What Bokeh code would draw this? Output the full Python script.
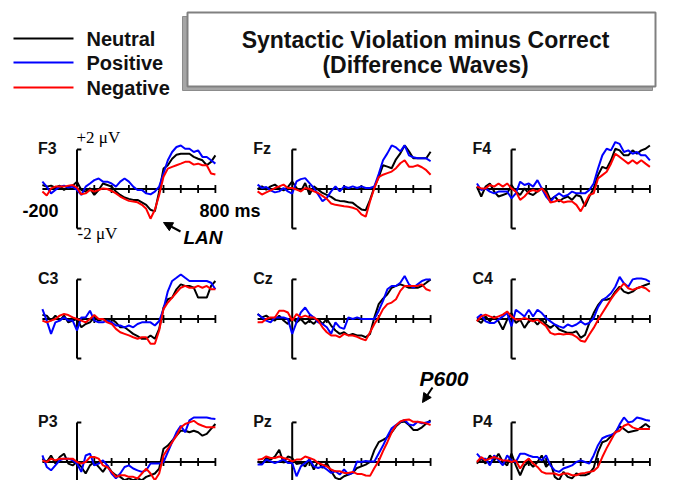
from bokeh.plotting import figure
from bokeh.models import Range1d, Arrow, NormalHead
from bokeh.embed import file_html
from bokeh.resources import INLINE
from bokeh.core.properties import value

# ---------------- data (difference waves, microvolts) ----------------
times = list(range(-200, 801, 25))
tick_ms = [100, 200, 300, 400, 500, 600, 700, 800]
conditions = ["Neutral", "Positive", "Negative"]
electrodes = ["F3", "Fz", "F4", "C3", "Cz", "C4", "P3", "Pz", "P4"]

F3_neutral = [0.2, 0.12, 0.17, 0.07, 0.17, -0.05, 0.12, 0.17, 0.37, -0.05, -0.13, 0.03, -0.3, -0.05, 0.28, 0.2,
              0.12, -0.13, -0.3, -0.43, -0.5, -0.55, -0.55, -0.67, -0.8, -1.05, -1.13, -0.13, 1.03, 1.2, 1.53, 1.73,
              1.78, 1.78, 1.78, 1.62, 1.53, 1.45, 1.2, 1.37, 1.7]
F3_positive = [0.37, 0.12, -0.22, -0.05, 0.12, 0.17, 0.07, 0.12, -0.05, -0.3, 0.12, 0.28, 0.45, 0.53, 0.37, 0.37,
               0.28, 0.12, 0.37, 0.53, 0.37, 0.12, -0.05, -0.05, -0.22, -0.27, -0.13, 0.12, 0.78, 1.45, 1.87, 2.12,
               2.2, 2.03, 2.03, 1.87, 1.95, 1.62, 1.62, 1.45, 1.28]
F3_negative = [-0.13, -0.33, 0.03, 0.12, 0.12, 0.12, 0.17, 0.2, 0.07, -0.27, -0.22, -0.05, -0.13, -0.05, 0.03, 0.0,
               -0.1, -0.22, -0.38, -0.5, -0.6, -0.63, -0.67, -0.8, -1.0, -1.5, -1.05, -0.3, 0.62, 1.03, 1.12, 1.2,
               1.28, 1.37, 1.37, 1.23, 1.28, 1.2, 1.2, 0.78, 0.73]

Fz_neutral = [0.0, 0.13, -0.03, 0.13, 0.22, 0.05, -0.07, 0.1, 0.38, 0.05, -0.12, 0.3, -0.28, 0.13, -0.03, -0.2,
              -0.3, -0.4, -0.55, -0.6, -0.62, -0.67, -0.7, -0.87, -1.03, -1.07, -0.55, 0.1, 0.6, 1.2, 1.13, 1.05,
              1.5, 1.8, 2.2, 1.9, 1.55, 1.55, 1.55, 1.55, 1.88]
Fz_positive = [0.22, 0.05, 0.1, -0.07, -0.17, -0.12, 0.05, -0.12, -0.23, 0.38, 0.5, 0.55, 0.3, 0.05, -0.28, -0.62,
               -0.45, -0.12, 0.13, -0.12, 0.13, 0.05, 0.13, 0.05, 0.13, 0.05, 0.05, 0.13, 0.75, 1.45, 1.8, 2.2,
               2.1, 1.9, 2.2, 1.7, 1.6, 1.55, 1.55, 1.55, 1.4]
Fz_negative = [-0.12, -0.28, -0.17, -0.07, 0.05, 0.13, 0.22, 0.05, 0.05, -0.03, -0.12, 0.05, 0.0, -0.12, -0.2, -0.35,
               -0.5, -0.73, -0.8, -0.83, -0.87, -0.9, -0.95, -1.03, -1.28, -1.4, -0.62, 0.05, 0.6, 0.72, 0.8, 0.88,
               1.05, 1.3, 1.45, 1.13, 1.13, 1.2, 1.1, 0.95, 0.72]

F4_neutral = [0.12, -0.38, 0.12, 0.28, -0.13, -0.38, -0.3, -0.22, 0.2, -0.13, -0.3, 0.03, -0.22, -0.3, -0.13, 0.03,
              -0.05, -0.55, -0.38, -0.63, -0.47, -0.38, -0.55, -0.3, -0.38, -0.88, -0.38, 0.03, 0.7, 1.12, 1.03, 1.45,
              2.03, 1.95, 1.7, 1.7, 1.95, 1.78, 1.95, 2.03, 2.2]
F4_positive = [0.28, -0.05, 0.03, -0.13, -0.22, -0.13, -0.13, -0.13, -0.47, -0.22, 0.37, 0.2, 0.28, 0.12, 0.45, 0.03,
               -0.38, -0.63, -0.38, -0.22, -0.38, -0.3, -0.13, -0.22, -0.22, -0.22, -0.05, 0.28, 1.03, 1.7, 2.03, 1.95,
               2.37, 2.28, 1.87, 1.95, 1.78, 1.87, 1.7, 1.7, 1.45]
F4_negative = [0.12, 0.03, 0.03, 0.2, 0.12, 0.28, 0.12, 0.28, 0.03, -0.13, -0.55, -0.38, -0.13, -0.05, -0.13, 0.03,
               -0.22, -0.68, -0.63, -0.55, -0.68, -0.63, -0.63, -0.8, -1.13, -0.72, -0.3, -0.22, 0.53, 0.7, 0.87, 1.28,
               1.78, 1.62, 1.45, 1.28, 1.45, 1.28, 1.45, 1.28, 1.12]

C3_neutral = [0.2, 0.17, -0.08, 0.17, -0.08, 0.17, -0.17, -0.08, 0.0, -0.42, -0.25, -0.17, 0.08, -0.08, 0.0, -0.08,
              0.0, -0.17, -0.42, -0.42, -0.58, -0.75, -0.87, -1.0, -1.0, -0.83, -1.0, -0.5, 0.58, 1.0, 1.08, 1.5,
              1.75, 1.67, 1.67, 1.58, 1.08, 1.08, 1.08, 1.67, 1.92]
C3_positive = [0.5, -0.08, -0.75, -0.17, -0.08, 0.08, -0.08, -0.08, -0.58, 0.08, 0.08, 0.42, -0.08, -0.17, -0.17, -0.08,
               -0.17, -0.33, -0.33, -0.42, -0.33, -0.42, -0.25, -0.17, -0.17, -0.17, -0.33, -0.1, 0.5, 1.4, 1.92, 2.08,
               2.25, 2.08, 1.92, 1.92, 1.92, 1.92, 1.92, 1.83, 1.5]
C3_negative = [-0.08, -0.17, -0.08, 0.0, 0.17, 0.25, 0.2, 0.08, 0.0, -0.08, -0.17, 0.0, 0.2, 0.0, 0.0, -0.17,
               -0.25, -0.5, -0.67, -0.75, -0.83, -0.92, -1.0, -0.92, -0.92, -1.25, -1.25, -0.58, 0.5, 0.83, 1.08, 1.33,
               1.58, 1.67, 1.58, 1.58, 1.67, 1.58, 1.67, 1.5, 1.5]

Cz_neutral = [0.25, 0.08, 0.17, 0.0, -0.08, 0.17, -0.08, -0.25, 0.08, -0.17, 0.0, -0.25, -0.08, -0.25, 0.0, -0.25,
              0.0, -0.33, -0.58, -0.75, -0.67, -0.83, -0.75, -0.83, -0.83, -0.92, -0.75, 0.08, 0.75, 1.03, 1.25, 1.58,
              1.67, 1.75, 1.67, 1.58, 1.58, 1.58, 1.67, 1.83, 2.0]
Cz_positive = [0.25, 0.08, -0.08, -0.17, 0.08, 0.08, 0.08, 0.0, -0.75, -0.17, 0.33, 0.58, 0.25, 0.08, -0.17, -0.25,
               -0.42, -0.75, -0.17, -0.42, -0.5, 0.08, 0.0, 0.08, 0.0, 0.0, 0.0, 0.0, 0.42, 0.92, 1.5, 1.67,
               1.67, 1.83, 2.17, 1.75, 1.58, 1.75, 1.92, 2.0, 2.0]
Cz_negative = [-0.17, -0.17, 0.0, 0.08, 0.08, 0.42, 0.42, 0.33, -0.08, 0.25, 0.08, 0.17, 0.08, 0.08, -0.08, -0.42,
               -0.67, -0.83, -0.83, -0.92, -0.75, -0.83, -0.83, -0.9, -1.0, -1.08, -0.67, -0.25, 0.08, 0.5, 0.75, 0.83,
               1.0, 1.42, 1.67, 1.67, 1.67, 1.67, 1.75, 1.5, 1.42]

C4_neutral = [-0.03, -0.2, 0.13, -0.12, 0.13, -0.12, -0.53, -0.03, 0.3, -0.2, -0.03, -0.45, -0.12, -0.03, -0.28, -0.03,
              -0.28, -0.45, -0.28, -0.53, -0.62, -0.7, -0.7, -0.62, -0.95, -0.8, -0.2, 0.3, 0.7, 0.97, 0.97, 1.05,
              1.38, 1.63, 1.38, 1.3, 1.38, 1.55, 1.63, 1.72, 1.8]
C4_positive = [0.05, 0.22, -0.12, -0.2, -0.2, -0.03, 0.13, 0.3, -0.37, 0.47, 0.3, 0.13, 0.47, 0.13, 0.47, 0.3,
               0.05, -0.12, -0.28, -0.37, -0.45, -0.28, -0.37, -0.28, -0.12, -0.28, -0.2, 0.05, 0.6, 0.95, 1.1, 1.3,
               1.63, 2.13, 1.8, 1.63, 2.0, 2.05, 2.05, 2.0, 1.88]
C4_negative = [-0.12, 0.13, 0.22, 0.13, 0.05, 0.13, 0.22, 0.38, 0.13, -0.03, -0.03, 0.05, -0.03, -0.12, -0.03, -0.2,
               -0.37, -0.7, -0.78, -0.75, -0.78, -0.75, -0.78, -0.9, -1.1, -1.15, -0.78, -0.45, -0.05, 0.3, 0.65, 1.0,
               1.3, 1.55, 1.8, 1.55, 1.47, 1.55, 1.63, 1.55, 1.38]

P3_neutral = [0.17, 0.0, 0.33, -0.08, 0.25, 0.42, -0.08, -0.17, 0.0, -0.25, -0.58, -0.17, 0.0, -0.25, -0.5, -0.17,
              -0.5, -0.67, -0.75, -0.92, -0.83, -0.92, -0.83, -0.92, -0.75, -0.67, -0.58, -0.33, 0.67, 0.83, 1.08, 1.33,
              1.58, 1.58, 1.5, 1.58, 1.5, 1.33, 1.42, 1.67, 1.92]
P3_positive = [0.33, -0.25, -0.42, -0.17, 0.08, 0.17, 0.17, 0.08, -0.08, -0.5, 0.33, 0.42, -0.17, -0.08, 0.08, -0.17,
               -0.58, -0.83, -0.58, -0.25, -0.17, -0.33, -0.42, -0.5, -0.42, -0.08, -0.08, -0.08, 0.0, 0.5, 1.0, 1.5,
               1.83, 1.5, 2.1, 2.25, 2.25, 2.25, 2.25, 2.2, 2.17]
P3_negative = [0.08, 0.0, 0.17, 0.08, 0.17, 0.17, 0.17, 0.17, 0.0, -0.08, 0.0, 0.25, 0.25, 0.17, -0.17, -0.25,
               -0.5, -0.75, -0.67, -0.67, -0.75, -0.75, -0.83, -0.58, -0.33, -0.58, -0.92, -0.58, 0.33, 0.67, 1.0, 1.33,
               1.75, 1.92, 2.0, 2.08, 1.92, 1.83, 1.75, 1.75, 1.75]

Pz_neutral = [0.03, -0.1, 0.2, 0.12, 0.28, 0.62, -0.05, 0.28, 0.2, -0.1, -0.05, -0.22, 0.12, -0.38, 0.03, -0.3,
              -0.05, -0.47, -0.8, -0.88, -0.72, -0.63, -0.55, -0.3, -0.22, -0.13, 0.0, 0.6, 1.0, 1.12, 1.25, 1.5,
              1.8, 2.0, 2.05, 1.87, 1.62, 1.62, 1.75, 1.95, 2.1]
Pz_positive = [-0.13, -0.13, 0.12, 0.03, -0.05, 0.03, 0.12, -0.05, -0.05, -0.72, -0.22, -0.05, 0.12, -0.22, -0.3, -0.22,
               -0.38, -0.55, -0.47, -0.63, -0.38, -0.63, -0.55, 0.03, 0.0, 0.05, 0.03, 0.03, 0.43, 0.83, 1.3, 1.7,
               1.87, 2.03, 2.12, 1.9, 1.85, 2.03, 1.95, 2.0, 2.03]
Pz_negative = [0.12, 0.15, 0.28, 0.2, 0.2, 0.28, 0.2, 0.15, 0.03, 0.12, 0.12, 0.28, 0.2, 0.12, -0.05, -0.13,
               -0.22, -0.38, -0.47, -0.47, -0.55, -0.55, -0.5, -0.6, -0.6, -0.68, -0.7, -0.3, 0.05, 0.55, 1.0, 1.5,
               1.85, 2.05, 2.12, 2.15, 2.03, 2.03, 2.0, 1.95, 1.87]

P4_neutral = [-0.08, 0.17, -0.08, 0.33, 0.08, 0.42, 0.0, -0.17, 0.42, -0.17, -0.67, -0.17, 0.0, -0.25, 0.0, 0.33,
              -0.25, 0.0, -0.75, -0.92, -0.5, -0.75, -0.83, -0.58, -0.67, -0.67, -0.58, -0.3, 0.5, 1.0, 1.08, 1.3,
              1.5, 1.8, 1.67, 1.5, 1.55, 1.6, 1.75, 1.92, 1.75]
P4_positive = [0.42, 0.17, 0.17, -0.17, 0.33, 0.08, -0.17, 0.33, 0.08, 0.0, 0.42, 0.42, 0.33, 0.25, 0.25, 0.08,
               0.33, -0.17, -0.42, -0.5, -0.33, -0.25, -0.17, 0.0, 0.08, 0.0, -0.08, 0.33, 0.85, 1.2, 1.3, 1.37,
               1.45, 1.9, 2.25, 2.0, 2.05, 2.25, 2.2, 2.12, 2.08]
P4_negative = [0.0, 0.25, 0.08, 0.17, 0.25, 0.17, 0.08, 0.08, 0.0, 0.08, -0.33, 0.0, 0.17, -0.08, -0.25, -0.5,
               -0.58, -0.58, -0.58, -0.67, -0.58, -0.58, -0.67, -0.67, -0.58, -0.55, -0.5, -0.45, -0.25, 0.25, 0.7, 1.1,
               1.5, 1.58, 1.83, 1.92, 1.75, 1.67, 1.67, 1.67, 1.67]

waves = {
    "F3": [F3_neutral, F3_positive, F3_negative],
    "Fz": [Fz_neutral, Fz_positive, Fz_negative],
    "F4": [F4_neutral, F4_positive, F4_negative],
    "C3": [C3_neutral, C3_positive, C3_negative],
    "Cz": [Cz_neutral, Cz_positive, Cz_negative],
    "C4": [C4_neutral, C4_positive, C4_negative],
    "P3": [P3_neutral, P3_positive, P3_negative],
    "Pz": [Pz_neutral, Pz_positive, Pz_negative],
    "P4": [P4_neutral, P4_positive, P4_negative],
}

# ---------------- layout (screen pixels) ----------------
W, H = 657, 480
PX_PER_MS = 0.173
PX_PER_UV = 19.8
col_zero_px = [76.5, 291.7, 511.0]
row_zero_px = [188.5, 318.5, 461.5]
colors = ["black", "#0000ff", "#ff0000"]

p = figure(width=W, height=H, output_backend="svg", toolbar_location=None,
           x_range=Range1d(0, W), y_range=Range1d(H, 0),
           x_axis_location=None, y_axis_location=None, min_border=0)
p.grid.visible = False
p.outline_line_color = None
p.background_fill_color = "white"
p.border_fill_color = "white"

for i, X0 in enumerate(col_zero_px):
    p.extra_x_ranges[f"c{i}"] = Range1d(-X0 / PX_PER_MS, (W - X0) / PX_PER_MS)
for j, Y0 in enumerate(row_zero_px):
    p.extra_y_ranges[f"r{j}"] = Range1d((Y0 - H) / PX_PER_UV, Y0 / PX_PER_UV)

SANS = value("Liberation Sans")
for k, name in enumerate(electrodes):
    ci, rj = k % 3, k // 3
    xr, yr = f"c{ci}", f"r{rj}"
    # axes
    p.line([-200, 800], [0, 0], x_range_name=xr, y_range_name=yr, line_color="black", line_width=2.2)
    p.segment(x0=tick_ms, y0=[-0.2] * len(tick_ms), x1=tick_ms, y1=[0.2] * len(tick_ms),
              x_range_name=xr, y_range_name=yr, line_color="black", line_width=1.8)
    p.segment(x0=[0, 0, 0], y0=[-2, 2, -2], x1=[0, 25, 25], y1=[2, 2, -2],
              x_range_name=xr, y_range_name=yr, line_color="black", line_width=2)
    # waves
    for series, col in zip(waves[name], colors):
        p.line(times, series, x_range_name=xr, y_range_name=yr, line_color=col, line_width=2)
    # electrode label
    p.text(x=[col_zero_px[ci] - 39], y=[row_zero_px[rj] - 41], text=[name], text_font=SANS,
           text_font_style="bold", text_font_size="16px", text_baseline="middle", text_align="left",
           text_color="#111111")

# scale annotations on F3 and component labels
p.text(x=[76, 77], y=[137, 233], text=["+2 \u03bcV", "-2 \u03bcV"], text_font=value("Liberation Serif"),
       text_font_size="17px", text_baseline="middle", text_align="left", text_color="black")
p.text(x=[22, 199], y=[210, 210], text=["-200", "800 ms"], text_font=SANS, text_font_style="bold",
       text_font_size="18px", text_baseline="middle", text_align="left", text_color="black")
p.text(x=[183], y=[237], text=["LAN"], text_font=SANS, text_font_style="bold italic",
       text_font_size="19px", text_baseline="middle", text_align="left", text_color="black")
p.text(x=[419], y=[378], text=["P600"], text_font=SANS, text_font_style="bold italic",
       text_font_size="21px", text_baseline="middle", text_align="left", text_color="black")
p.add_layout(Arrow(end=NormalHead(size=9, fill_color="black", line_color="black"),
                   x_start=180, y_start=231, x_end=163, y_end=222, line_width=2, line_color="black"))
p.add_layout(Arrow(end=NormalHead(size=9, fill_color="black", line_color="black"),
                   x_start=432, y_start=387, x_end=422, y_end=402, line_width=2, line_color="black"))

# title box
p.quad(left=[182], right=[652], top=[16], bottom=[90], fill_color="#a6a6a6", line_color="#8c8c8c", line_width=1)
p.quad(left=[187], right=[655], top=[12], bottom=[86], fill_color="white", line_color="#808080", line_width=2)
p.text(x=[425, 425], y=[39, 64], text=["Syntactic Violation minus Correct", "(Difference Waves)"],
       text_font=SANS, text_font_style="bold", text_font_size="23px", text_baseline="middle",
       text_align="center", text_color="#111111")

# legend key
leg_y = [38, 62, 87]
for yk, col, lab in zip(leg_y, colors, conditions):
    p.line([13, 73], [yk, yk], line_color=col, line_width=2)
    p.text(x=[86], y=[yk], text=[lab], text_font=SANS, text_font_style="bold", text_font_size="20px",
           text_baseline="middle", text_align="left", text_color="#111111")

open("out.html", "w").write(file_html(p, INLINE))
